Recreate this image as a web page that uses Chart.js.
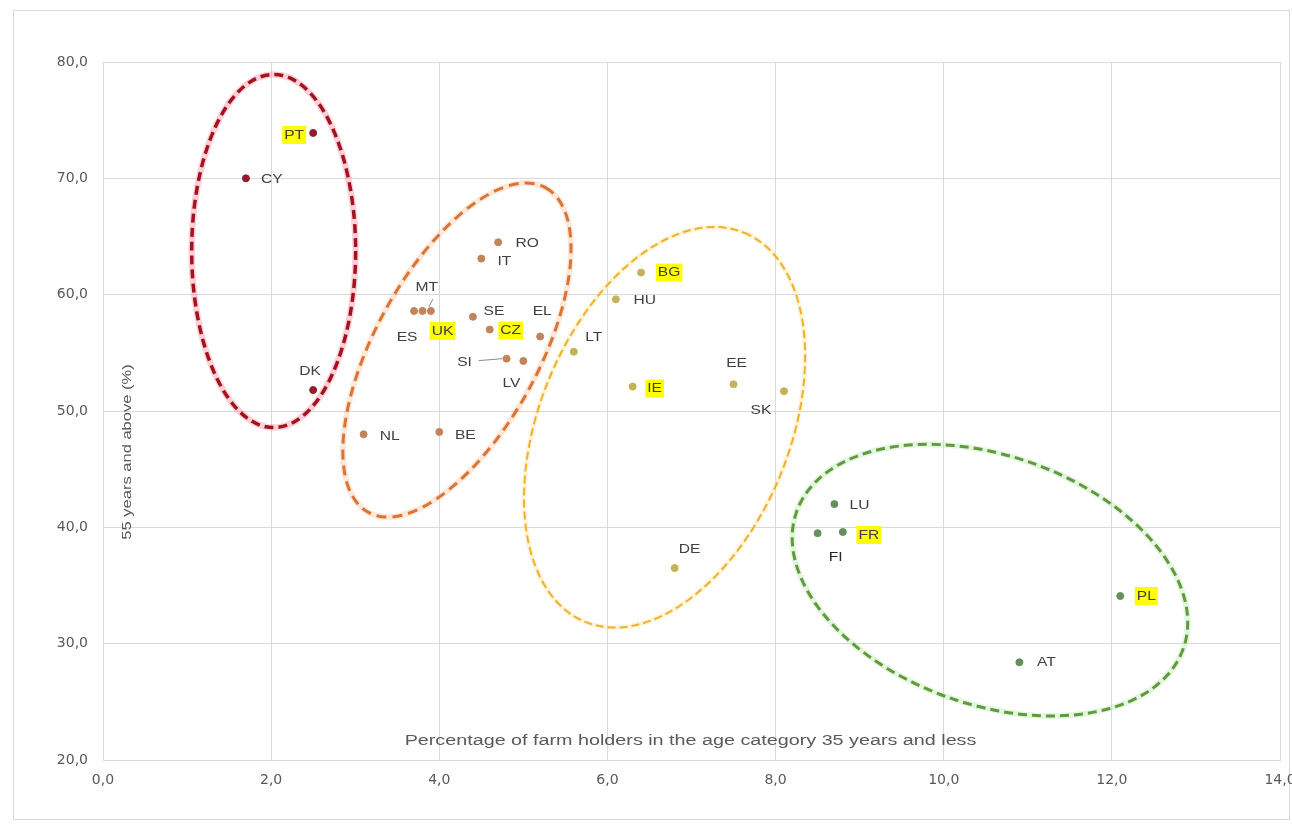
<!DOCTYPE html>
<html><head><meta charset="utf-8">
<script src="https://cdn.jsdelivr.net/npm/chart.js@4/dist/chart.umd.min.js"></script>
<style>html,body{margin:0;padding:0;background:#fff}#wrap{width:1292px;height:826px;position:relative}canvas{display:block}</style>
</head><body><div id="wrap"><canvas id="c" width="1292" height="826" style="width:1292px;height:826px"></canvas></div>
<script>
// ---- data ----
const xTickValues = [0, 2, 4, 6, 8, 10, 12, 14];
const yTickValues = [20, 30, 40, 50, 60, 70, 80];
const redCodes = ['PT', 'CY', 'DK'];
const redX = [2.5, 1.7, 2.5];
const redY = [73.9, 70.0, 51.8];
const orangeCodes = ['MT', 'ES', 'UK', 'RO', 'IT', 'SE', 'CZ', 'SI', 'LV', 'EL', 'NL', 'BE'];
const orangeX = [3.9, 3.7, 3.8, 4.7, 4.5, 4.4, 4.6, 4.8, 5.0, 5.2, 3.1, 4.0];
const orangeY = [58.6, 58.6, 58.6, 64.5, 63.1, 58.1, 57.0, 54.5, 54.3, 56.4, 48.0, 48.2];
const yellowCodes = ['LT', 'HU', 'BG', 'IE', 'EE', 'SK', 'DE'];
const yellowX = [5.6, 6.1, 6.4, 6.3, 7.5, 8.1, 6.8];
const yellowY = [55.1, 59.6, 61.9, 52.1, 52.3, 51.7, 36.5];
const greenCodes = ['LU', 'FI', 'FR', 'PL', 'AT'];
const greenX = [8.7, 8.5, 8.8, 12.1, 10.9];
const greenY = [42.0, 39.5, 39.6, 34.1, 28.4];
const highlightedCodes = ['PT', 'UK', 'CZ', 'BG', 'IE', 'FR', 'PL'];
const xTitle = 'Percentage of farm holders in the age category 35 years and less';
const yTitle = '55 years and above (%)';

// ---- styling / annotation geometry (not data) ----
const labelOffsets = {
  PT:[-19,2], CY:[26,1], DK:[-3,-19], MT:[-4,-24], ES:[-7,26], UK:[20,20], RO:[29,1], IT:[23,3],
  SE:[21,-5], CZ:[21,1], SI:[-42,4], LV:[-12,22], EL:[2,-25], NL:[26,2], BE:[26,3],
  LT:[20,-14], HU:[29,1], BG:[28,0], IE:[22,2], EE:[3,-21], SK:[-23,19], DE:[15,-19],
  LU:[25,1], FI:[18,24], FR:[26,3], PL:[26,0], AT:[27,0]
};
// ellipses: centre in data units, semi-axes in x-units, angle in screen degrees
const ellipses = [
  {cx:2.03, cy:63.75, a:0.975, b:2.10, ang:0, color:'#a3131f', glow:'rgba(255,120,140,0.35)', width:3.5, dash:[9,5]},
  {cx:4.21, cy:55.24, a:2.20, b:0.975, ang:-61.4, color:'#db7434', glow:'rgba(250,190,150,0.35)', width:3, dash:[10,6]},
  {cx:6.68, cy:48.6, a:2.50, b:1.49, ang:-67.8, color:'#f2b02a', glow:'rgba(250,225,150,0.35)', width:2, dash:[8,4]},
  {cx:10.55, cy:35.46, a:2.44, b:1.48, ang:19.5, color:'#5f9a3f', glow:'rgba(180,230,160,0.35)', width:3, dash:[9,5]}
];

function pts(xs, ys){ return xs.map((x,i)=>({x:x, y:ys[i]})); }
const fmt = v => v.toFixed(1).replace('.', ',');

const bgPlugin = {
  id:'bg',
  beforeDraw(chart){
    const c = chart.ctx;
    c.save();
    c.fillStyle = '#fff'; c.fillRect(0,0,chart.width,chart.height);
    c.strokeStyle = '#d9d9d9'; c.lineWidth = 1;
    c.strokeRect(13.5, 10.5, 1276, 809);
    c.restore();
  }
};

const ellipsePlugin = {
  id:'ellipses',
  beforeDatasetsDraw(chart){
    const c = chart.ctx, xs = chart.scales.x, ys = chart.scales.y;
    const unit = xs.getPixelForValue(1) - xs.getPixelForValue(0);
    c.save();
    c.beginPath(); c.rect(chart.chartArea.left, chart.chartArea.top, chart.chartArea.width, chart.chartArea.height); c.clip();
    ellipses.forEach(e => {
      const px = xs.getPixelForValue(e.cx), py = ys.getPixelForValue(e.cy);
      const ang = e.ang * Math.PI / 180;
      c.beginPath();
      c.ellipse(px, py, e.a*unit, e.b*unit, ang, 0, Math.PI*2);
      c.setLineDash([]); c.strokeStyle = e.glow; c.lineWidth = e.width + 3; c.stroke();
      c.beginPath();
      c.ellipse(px, py, e.a*unit, e.b*unit, ang, 0, Math.PI*2);
      c.setLineDash(e.dash); c.strokeStyle = e.color; c.lineWidth = e.width; c.stroke();
    });
    c.restore();
  }
};

function stretchedText(c, text, x, y, sx){
  c.save(); c.translate(x, y); c.scale(sx, 1); c.fillText(text, 0, 0); c.restore();
}

const labelPlugin = {
  id:'labels',
  afterDatasetsDraw(chart){
    const c = chart.ctx;
    c.save();
    c.font = '13px "Liberation Sans", Arial, sans-serif';
    c.textAlign = 'center'; c.textBaseline = 'middle';
    chart.data.datasets.forEach((ds, di) => {
      const meta = chart.getDatasetMeta(di);
      ds.codes.forEach((code, i) => {
        const el = meta.data[i];
        const off = labelOffsets[code] || [20,0];
        const lx = el.x + off[0], ly = el.y + off[1];
        const sx = 1.2;
        const w = c.measureText(code).width * sx;
        if (highlightedCodes.includes(code)) {
          c.fillStyle = '#ffff00';
          c.fillRect(lx - w/2 - 2, ly - 9, w + 4, 18);
        }
        c.fillStyle = code === 'FI' ? '#262626' : '#404040';
        stretchedText(c, code, lx, ly, sx);
        if (code === 'MT') {
          c.strokeStyle = '#8c8c8c'; c.lineWidth = 1;
          c.beginPath(); c.moveTo(lx + 6, ly + 12); c.lineTo(el.x - 2, el.y - 4); c.stroke();
        }
        if (code === 'SI') {
          c.strokeStyle = '#8c8c8c'; c.lineWidth = 1;
          c.beginPath(); c.moveTo(lx + 14, ly - 2); c.lineTo(el.x - 4, el.y); c.stroke();
        }
      });
    });
    c.restore();
  }
};

const titlePlugin = {
  id:'axisTitles',
  afterDraw(chart){
    const c = chart.ctx, a = chart.chartArea;
    c.save();
    c.fillStyle = '#595959';
    c.textAlign = 'center'; c.textBaseline = 'middle';
    c.font = '14px "Liberation Sans", Arial, sans-serif';
    stretchedText(c, xTitle, (a.left + a.right)/2 - 1, a.bottom - 19, 1.41);
    c.font = '13px "Liberation Sans", Arial, sans-serif';
    c.translate(a.left + 24, (a.top + a.bottom)/2 + 41);
    c.rotate(-Math.PI/2);
    c.scale(1.27, 1);
    c.fillText(yTitle, 0, 0);
    c.restore();
  }
};

const tickFont = {family:'"DejaVu Sans", sans-serif', size:14};

new Chart(document.getElementById('c'), {
  type:'scatter',
  data:{
    datasets:[
      {codes:redCodes, data:pts(redX, redY), backgroundColor:'#951b2a', borderColor:'#951b2a', pointRadius:3.5},
      {codes:orangeCodes, data:pts(orangeX, orangeY), backgroundColor:'#c2845a', borderColor:'#c2845a', pointRadius:3.5},
      {codes:yellowCodes, data:pts(yellowX, yellowY), backgroundColor:'#c2b358', borderColor:'#c2b358', pointRadius:3.5},
      {codes:greenCodes, data:pts(greenX, greenY), backgroundColor:'#66905a', borderColor:'#66905a', pointRadius:3.5}
    ]
  },
  options:{
    responsive:false,
    animation:false,
    devicePixelRatio:1,
    layout:{padding:{left:13, right:12, top:62, bottom:0}},
    plugins:{legend:{display:false}, tooltip:{enabled:false}},
    scales:{
      x:{
        type:'linear', min:xTickValues[0], max:xTickValues[xTickValues.length-1],
        afterBuildTicks(s){ s.ticks = xTickValues.map(v=>({value:v})); },
        afterFit(s){ s.height = 66; s.paddingRight = 0; s.paddingLeft = 0; },
        ticks:{callback:v=>fmt(v), color:'#595959', font:tickFont, padding:12, maxRotation:0, autoSkip:false},
        grid:{color:'#d9d9d9', drawTicks:false},
        border:{color:'#d9d9d9'}
      },
      y:{
        type:'linear', min:yTickValues[0], max:yTickValues[yTickValues.length-1],
        afterBuildTicks(s){ s.ticks = yTickValues.map(v=>({value:v})); },
        afterFit(s){ s.width = 90; s.paddingTop = 0; s.paddingBottom = 0; },
        ticks:{callback:v=>fmt(v), color:'#595959', font:tickFont, padding:15},
        grid:{color:'#d9d9d9', drawTicks:false},
        border:{color:'#d9d9d9'}
      }
    }
  },
  plugins:[bgPlugin, ellipsePlugin, labelPlugin, titlePlugin]
});
</script>
</body></html>
